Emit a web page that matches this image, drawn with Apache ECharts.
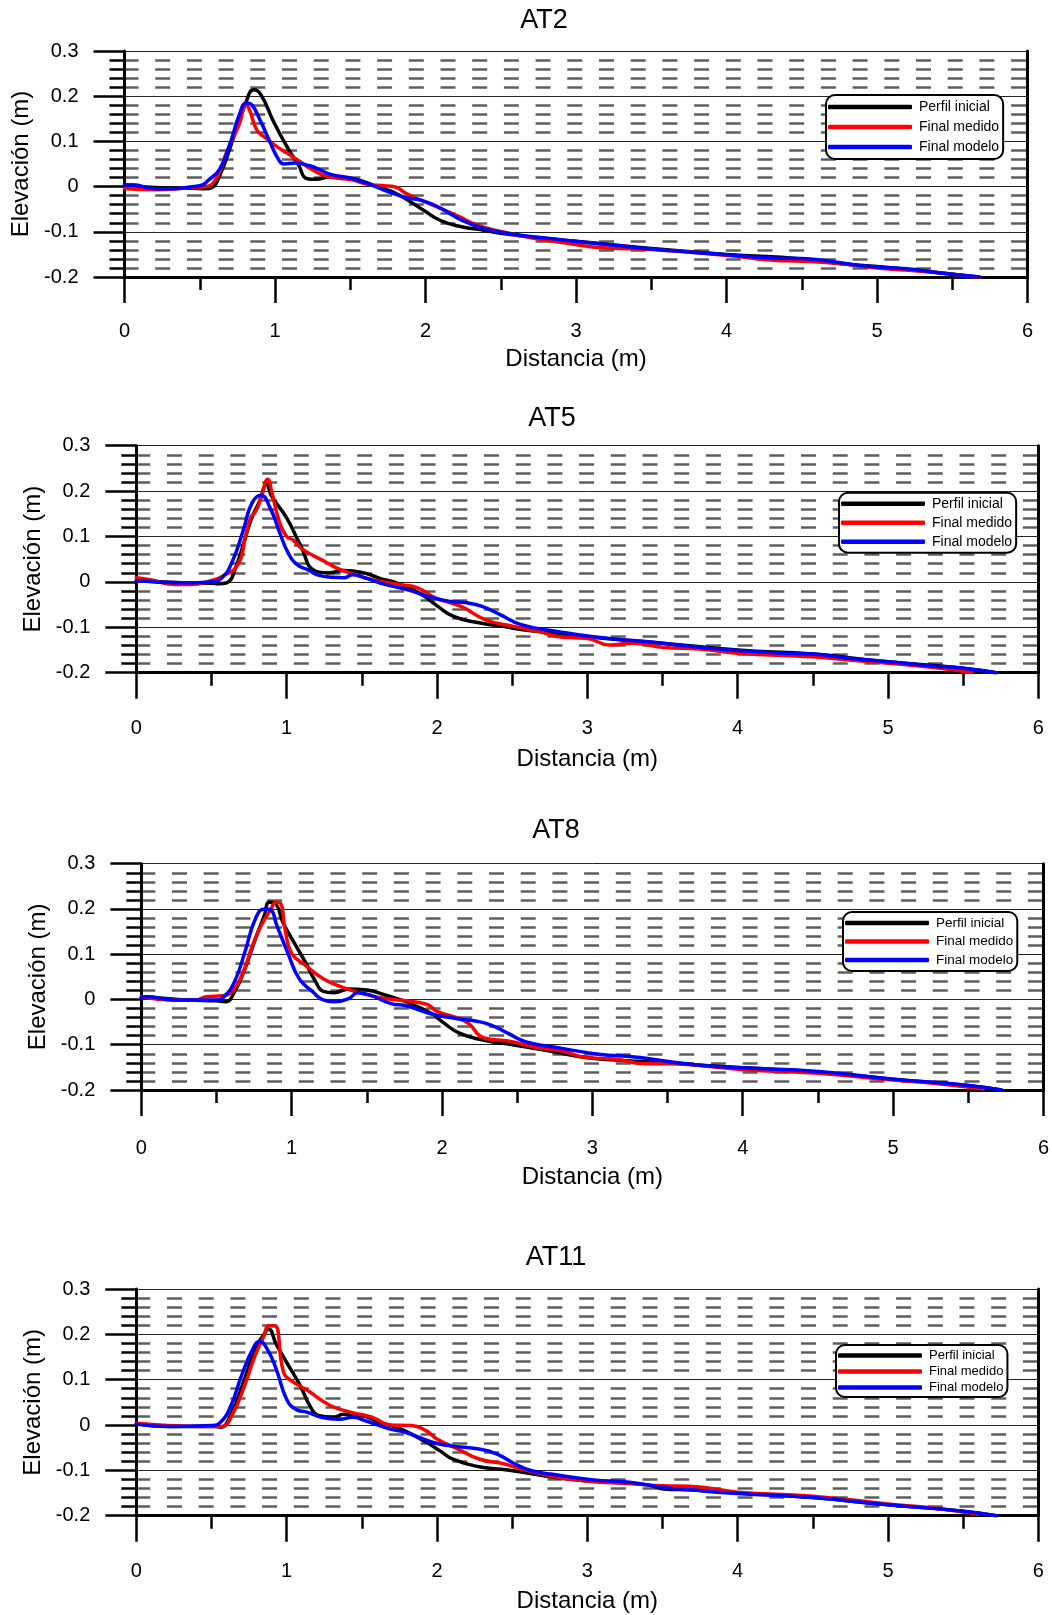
<!DOCTYPE html>
<html>
<head>
<meta charset="utf-8">
<script src="https://cdn.jsdelivr.net/npm/echarts@6/dist/echarts.min.js"></script>
<style>
html,body{margin:0;padding:0;background:#fff;}
#chart{width:1052px;height:1615px;}
</style>
</head>
<body>
<div id="chart"></div>
<script>
// ---------------- DATA ----------------
const panelTitles = ['AT2', 'AT5', 'AT8', 'AT11'];
const seriesNames = ['Perfil inicial', 'Final medido', 'Final modelo'];
const yTicks = [-0.2, -0.1, 0, 0.1, 0.2, 0.3];
const xTicks = [0, 1, 2, 3, 4, 5, 6];

const at2Inicial = [[0,0.005],[0.1,0.0],[0.3,-0.003],[0.5,-0.004],[0.54,-0.005],[0.576,-0.003],[0.635,0.026],[0.73,0.114],[0.8,0.18],[0.86,0.214],[0.907,0.203],[0.99,0.144],[1.085,0.085],[1.156,0.048],[1.21,0.018],[1.27,0.016],[1.37,0.022],[1.51,0.018],[1.68,0.0],[1.82,-0.018],[1.99,-0.053],[2.1,-0.075],[2.24,-0.089],[2.38,-0.096],[2.5,-0.103],[2.8,-0.115],[3.0,-0.121],[3.5,-0.137],[4.0,-0.15],[4.5,-0.16],[4.8,-0.172],[5.0,-0.177],[5.4,-0.19],[5.68,-0.2]];
const at2Medido = [[0,-0.004],[0.21,-0.007],[0.445,-0.002],[0.54,0],[0.61,0.018],[0.68,0.077],[0.76,0.136],[0.81,0.18],[0.835,0.166],[0.88,0.125],[0.94,0.107],[1.01,0.089],[1.08,0.074],[1.15,0.059],[1.25,0.037],[1.35,0.022],[1.51,0.015],[1.63,0.004],[1.725,0.002],[1.8,-0.001],[1.87,-0.015],[1.99,-0.033],[2.1,-0.048],[2.22,-0.066],[2.34,-0.085],[2.51,-0.1],[2.7,-0.113],[2.93,-0.125],[3.2,-0.136],[3.5,-0.139],[4.0,-0.152],[4.31,-0.163],[4.5,-0.165],[4.75,-0.17],[5.0,-0.18],[5.42,-0.191],[5.68,-0.202]];
const at2Modelo = [[0,0.003],[0.05,0.004],[0.21,-0.005],[0.5,0.002],[0.56,0.015],[0.635,0.04],[0.706,0.1],[0.763,0.159],[0.81,0.185],[0.845,0.181],[0.905,0.144],[0.965,0.1],[1.025,0.059],[1.06,0.05],[1.13,0.052],[1.23,0.046],[1.3,0.037],[1.37,0.027],[1.51,0.018],[1.63,0.005],[1.75,-0.011],[1.87,-0.024],[1.99,-0.032],[2.1,-0.048],[2.24,-0.074],[2.38,-0.092],[2.57,-0.105],[2.81,-0.114],[3.05,-0.123],[3.29,-0.131],[3.5,-0.138],[3.76,-0.145],[4.0,-0.151],[4.31,-0.158],[4.5,-0.159],[4.64,-0.163],[4.87,-0.174],[5.0,-0.178],[5.2,-0.182],[5.42,-0.191],[5.68,-0.2]];

const at5Inicial = [[0,0.003],[0.3,-0.002],[0.5,-0.003],[0.55,-0.004],[0.6,-0.002],[0.665,0.035],[0.76,0.134],[0.82,0.178],[0.867,0.215],[0.9,0.189],[1.0,0.141],[1.09,0.082],[1.19,0.024],[1.28,0.02],[1.38,0.025],[1.5,0.021],[1.61,0.009],[1.76,-0.006],[1.9,-0.028],[1.99,-0.05],[2.11,-0.076],[2.28,-0.09],[2.44,-0.098],[2.56,-0.105],[2.8,-0.113],[3.0,-0.121],[3.5,-0.135],[4.0,-0.15],[4.5,-0.159],[5.0,-0.176],[5.5,-0.19],[5.72,-0.2]];
const at5Medido = [[0,0.009],[0.1,0.004],[0.26,-0.006],[0.36,-0.006],[0.5,0.003],[0.57,0.012],[0.675,0.038],[0.725,0.097],[0.76,0.141],[0.795,0.156],[0.83,0.185],[0.875,0.226],[0.9,0.2],[0.95,0.134],[1.0,0.1],[1.04,0.093],[1.11,0.071],[1.23,0.049],[1.33,0.031],[1.42,0.02],[1.57,0.005],[1.76,-0.006],[1.87,-0.013],[1.99,-0.035],[2.16,-0.054],[2.32,-0.083],[2.51,-0.098],[2.67,-0.109],[2.84,-0.122],[2.99,-0.124],[3.15,-0.139],[3.3,-0.135],[3.5,-0.144],[3.74,-0.148],[4.0,-0.157],[4.5,-0.165],[4.74,-0.172],[5.0,-0.179],[5.29,-0.188],[5.56,-0.2]];
const at5Modelo = [[0,0.003],[0.3,-0.002],[0.5,0],[0.57,0.009],[0.64,0.046],[0.71,0.112],[0.77,0.174],[0.83,0.191],[0.89,0.163],[0.95,0.112],[1.01,0.064],[1.07,0.038],[1.14,0.027],[1.21,0.015],[1.31,0.01],[1.38,0.009],[1.44,0.016],[1.52,0.009],[1.66,-0.006],[1.8,-0.017],[1.97,-0.035],[2.09,-0.043],[2.2,-0.046],[2.3,-0.054],[2.42,-0.072],[2.56,-0.094],[2.8,-0.109],[3.04,-0.121],[3.3,-0.129],[3.5,-0.135],[3.74,-0.144],[4.0,-0.151],[4.3,-0.157],[4.5,-0.159],[4.74,-0.168],[5.0,-0.176],[5.29,-0.185],[5.5,-0.19],[5.72,-0.2]];

const at8Inicial = [[0,0.006],[0.1,0.004],[0.3,-0.001],[0.5,-0.003],[0.56,-0.005],[0.62,0.017],[0.69,0.069],[0.76,0.135],[0.82,0.187],[0.85,0.215],[0.89,0.212],[0.94,0.172],[1.0,0.135],[1.09,0.083],[1.16,0.039],[1.21,0.018],[1.28,0.015],[1.38,0.023],[1.5,0.021],[1.62,0.01],[1.76,-0.005],[1.93,-0.031],[2.0,-0.049],[2.12,-0.075],[2.28,-0.09],[2.47,-0.1],[2.69,-0.112],[2.93,-0.127],[3.16,-0.134],[3.4,-0.138],[3.68,-0.144],[4.0,-0.151],[4.5,-0.16],[5.0,-0.176],[5.5,-0.19],[5.72,-0.2]];
const at8Medido = [[0,0.006],[0.21,-0.001],[0.36,-0.001],[0.43,0.006],[0.54,0.008],[0.6,0.017],[0.67,0.054],[0.74,0.12],[0.8,0.165],[0.86,0.198],[0.895,0.215],[0.925,0.213],[0.955,0.157],[1.0,0.102],[1.09,0.076],[1.21,0.046],[1.33,0.028],[1.47,0.013],[1.62,0.002],[1.76,-0.003],[1.9,-0.011],[1.97,-0.027],[2.16,-0.049],[2.28,-0.085],[2.45,-0.092],[2.61,-0.105],[2.8,-0.114],[2.97,-0.129],[3.16,-0.132],[3.35,-0.142],[3.51,-0.142],[3.68,-0.145],[4.0,-0.155],[4.5,-0.163],[5.0,-0.178],[5.3,-0.186],[5.6,-0.198]];
const at8Modelo = [[0,0.004],[0.05,0.006],[0.21,-0.001],[0.5,-0.001],[0.55,0.006],[0.62,0.039],[0.69,0.106],[0.76,0.179],[0.82,0.2],[0.86,0.198],[0.9,0.165],[0.98,0.098],[1.05,0.046],[1.14,0.017],[1.21,-0.001],[1.28,-0.005],[1.38,0.002],[1.44,0.015],[1.52,0.01],[1.66,-0.009],[1.76,-0.014],[1.93,-0.032],[2.09,-0.042],[2.23,-0.048],[2.33,-0.057],[2.44,-0.075],[2.56,-0.094],[2.8,-0.108],[3.04,-0.121],[3.28,-0.127],[3.4,-0.132],[3.68,-0.144],[4.0,-0.151],[4.5,-0.159],[5.0,-0.176],[5.5,-0.19],[5.72,-0.2]];

const at11Inicial = [[0,0.002],[0.21,-0.003],[0.53,-0.003],[0.56,-0.005],[0.63,0.024],[0.72,0.101],[0.79,0.168],[0.85,0.2],[0.88,0.212],[0.93,0.179],[1.0,0.138],[1.09,0.087],[1.16,0.039],[1.21,0.021],[1.31,0.017],[1.38,0.024],[1.5,0.021],[1.62,0.006],[1.76,-0.009],[1.93,-0.038],[2.02,-0.057],[2.11,-0.076],[2.28,-0.092],[2.47,-0.099],[2.68,-0.11],[2.92,-0.121],[3.16,-0.126],[3.4,-0.132],[3.51,-0.141],[3.68,-0.143],[4.0,-0.15],[4.5,-0.16],[5.0,-0.176],[5.5,-0.19],[5.72,-0.2]];
const at11Medido = [[0,0.004],[0.21,-0.001],[0.5,-0.003],[0.57,-0.003],[0.64,0.024],[0.72,0.087],[0.79,0.153],[0.85,0.197],[0.88,0.219],[0.92,0.219],[0.98,0.116],[1.03,0.098],[1.14,0.076],[1.29,0.043],[1.43,0.028],[1.57,0.017],[1.69,0],[1.83,-0.001],[1.93,-0.013],[2.0,-0.031],[2.14,-0.053],[2.28,-0.075],[2.45,-0.086],[2.56,-0.097],[2.8,-0.115],[3.04,-0.125],[3.28,-0.129],[3.51,-0.134],[3.68,-0.135],[4.0,-0.148],[4.5,-0.157],[5.0,-0.174],[5.3,-0.183],[5.6,-0.197]];
const at11Modelo = [[0,0.002],[0.21,-0.003],[0.5,-0.001],[0.56,0.006],[0.63,0.043],[0.7,0.109],[0.78,0.171],[0.82,0.184],[0.87,0.168],[0.93,0.124],[1.0,0.057],[1.06,0.035],[1.14,0.028],[1.23,0.017],[1.35,0.013],[1.44,0.017],[1.52,0.01],[1.69,-0.009],[1.78,-0.015],[1.97,-0.038],[2.09,-0.046],[2.28,-0.053],[2.4,-0.064],[2.52,-0.086],[2.63,-0.101],[2.8,-0.11],[3.04,-0.121],[3.28,-0.126],[3.51,-0.138],[3.68,-0.143],[4.0,-0.151],[4.5,-0.16],[5.0,-0.176],[5.5,-0.19],[5.72,-0.2]];

const panelData = [
  [at2Inicial, at2Medido, at2Modelo],
  [at5Inicial, at5Medido, at5Modelo],
  [at8Inicial, at8Medido, at8Modelo],
  [at11Inicial, at11Medido, at11Modelo]
];

// ---------------- LAYOUT / STYLE ----------------
const FONT = '"Liberation Sans", Arial, Helvetica, sans-serif';
const lineColors = ['#000000', '#ff0000', '#0000ff'];
const layout = [
  {left:124.5, top:51,    w:903,   h:226,   titleX:544, titleY:21,    xLab:44, xName:70, legL:826, legT:95,   legFont:14,   legGap:6, legPad:[5,4,5,2]},
  {left:136.3, top:445.7, w:902,   h:227,   titleX:552, titleY:419,   xLab:46, xName:75, legL:839, legT:492.7,legFont:14,   legGap:5, legPad:[4,4,4,2]},
  {left:141.3, top:863.7, w:902.4, h:226.3, titleX:556, titleY:831,   xLab:48, xName:75, legL:843, legT:912,  legFont:13.5, legGap:4.5, legPad:[4,4,4,2]},
  {left:136.3, top:1289,  w:902,   h:226.7, titleX:556, titleY:1257.6,xLab:46, xName:74, legL:836, legT:1345, legFont:13,   legGap:3, legPad:[4,4,3,2]}
];

const option = {
  animation: false,
  backgroundColor: '#ffffff',
  title: [], legend: [], grid: [], xAxis: [], yAxis: [], series: []
};

layout.forEach((L, i) => {
  option.title.push({
    text: panelTitles[i], left: L.titleX, top: L.titleY - 14, textAlign: 'center', padding: 0,
    textStyle: {fontFamily: FONT, fontSize: 27, fontWeight: 'normal', color: '#000'}
  });
  option.grid.push({left: L.left, top: L.top, width: L.w, height: L.h, containLabel: false});
  option.xAxis.push({
    type: 'value', gridIndex: i, min: xTicks[0], max: xTicks[xTicks.length - 1], interval: 1,
    name: 'Distancia (m)', nameLocation: 'middle', nameGap: L.xName,
    nameTextStyle: {fontFamily: FONT, fontSize: 24, color: '#000'},
    axisLine: {show: true, onZero: false, lineStyle: {color: '#000', width: 3}},
    axisTick: {show: true, length: 26, lineStyle: {color: '#000', width: 2.5}},
    minorTick: {show: true, splitNumber: 2, length: 13, lineStyle: {color: '#000', width: 2.5}},
    splitLine: {show: false},
    axisLabel: {fontFamily: FONT, fontSize: 20, color: '#000', margin: L.xLab}
  });
  option.yAxis.push({
    type: 'value', gridIndex: i, min: yTicks[0], max: yTicks[yTicks.length - 1], interval: 0.1,
    name: 'Elevación (m)', nameLocation: 'middle', nameGap: 88,
    nameTextStyle: {fontFamily: FONT, fontSize: 24, color: '#000'},
    axisLine: {show: true, onZero: false, lineStyle: {color: '#000', width: 3}},
    axisTick: {show: true, length: 31, lineStyle: {color: '#000', width: 2.5}},
    minorTick: {show: true, splitNumber: 5, length: 15, lineStyle: {color: '#000', width: 2.5}},
    splitLine: {show: true, lineStyle: {color: '#222', width: 1}},
    minorSplitLine: {show: true, lineStyle: {color: '#5f5f5f', width: 2.7, type: [15, 16.7], dashOffset: 1}},
    axisLabel: {fontFamily: FONT, fontSize: 20, color: '#000', margin: 46,
      formatter: v => String(+v.toFixed(1))}
  });
  option.yAxis.push({
    type: 'value', gridIndex: i, min: yTicks[0], max: yTicks[yTicks.length - 1], position: 'right',
    axisLine: {show: true, onZero: false, lineStyle: {color: '#000', width: 3}},
    axisTick: {show: false}, axisLabel: {show: false}, splitLine: {show: false}
  });
  option.legend.push({
    data: seriesNames, orient: 'vertical', left: L.legL, top: L.legT,
    backgroundColor: '#fff', borderColor: '#000', borderWidth: 2, borderRadius: 9,
    padding: L.legPad, itemGap: L.legGap, itemWidth: 84, itemHeight: 4.5, icon: 'roundRect',
    textStyle: {fontFamily: FONT, fontSize: L.legFont, color: '#000', padding: [0,0,0,2]},
    selectedMode: false
  });
  panelData[i].forEach((d, k) => {
    option.series.push({
      name: seriesNames[k], type: 'line', xAxisIndex: i, yAxisIndex: 2 * i,
      data: d, showSymbol: false, symbol: 'none', smooth: 0.5,
      lineStyle: {color: lineColors[k], width: 3.5, cap: 'round', join: 'round'},
      itemStyle: {color: lineColors[k]},
      z: 3 + k
    });
  });
});

const chart = echarts.init(document.getElementById('chart'), null, {renderer: 'canvas'});
chart.setOption(option);
</script>
</body>
</html>
